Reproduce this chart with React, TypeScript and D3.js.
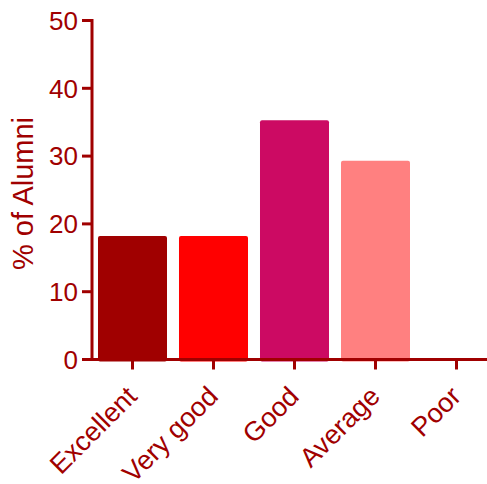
import React from "react";
import * as d3 from "d3";

const categories = ["Excellent", "Very good", "Good", "Average", "Poor"];
const values = [18.2, 18.2, 35.3, 29.3, 0];
const colors = ["#A00000", "#FF0000", "#CC0A63", "#FF8080", "#FFC0C0"];
const yTicks = [0, 10, 20, 30, 40, 50];
const yTitle = "% of Alumni";

const W = 487;
const H = 484;
const AX = "#A00000";
const FONT = "'Liberation Sans', Arial, Helvetica, sans-serif";

export default function App() {
  const x = d3
    .scaleBand<string>()
    .domain(categories)
    .range([92, 497])
    .paddingInner(0.148)
    .paddingOuter(0.074);
  const y = d3.scaleLinear().domain([0, 50]).range([359.5, 20.5]);
  const y0 = y(0);

  return (
    <svg
      width={W}
      height={H}
      style={{ position: "absolute", left: 0, top: 0, background: "#fff" }}
      fontFamily={FONT}
    >
      {categories.map((c, i) =>
        values[i] > 0 ? (
          <rect
            key={c}
            x={x(c)}
            y={y(values[i])}
            width={x.bandwidth()}
            height={y0 - y(values[i]) + 2}
            rx={2}
            fill={colors[i]}
          />
        ) : null
      )}
      {/* y axis */}
      <line x1={92} x2={92} y1={19} y2={361} stroke={AX} strokeWidth={3} />
      {yTicks.map((t) => (
        <g key={t}>
          <line x1={82} x2={92} y1={y(t)} y2={y(t)} stroke={AX} strokeWidth={3} />
          <text
            x={78}
            y={y(t)}
            dy="0.36em"
            textAnchor="end"
            fontSize={26}
            fill={AX}
          >
            {t}
          </text>
        </g>
      ))}
      {/* x axis */}
      <line x1={82} x2={W} y1={y0} y2={y0} stroke={AX} strokeWidth={3} />
      {categories.map((c) => {
        const cx = (x(c) as number) + x.bandwidth() / 2;
        return (
          <g key={c}>
            <line x1={cx} x2={cx} y1={y0} y2={y0 + 10} stroke={AX} strokeWidth={3} />
            <text
              transform={`translate(${cx + 6},${398}) rotate(-45)`}
              textAnchor="end"
              fontSize={27}
              fill={AX}
            >
              {c}
            </text>
          </g>
        );
      })}
      <text
        transform={`translate(33,193.5) rotate(-90)`}
        textAnchor="middle"
        fontSize={29}
        fill={AX}
      >
        {yTitle}
      </text>
    </svg>
  );
}
